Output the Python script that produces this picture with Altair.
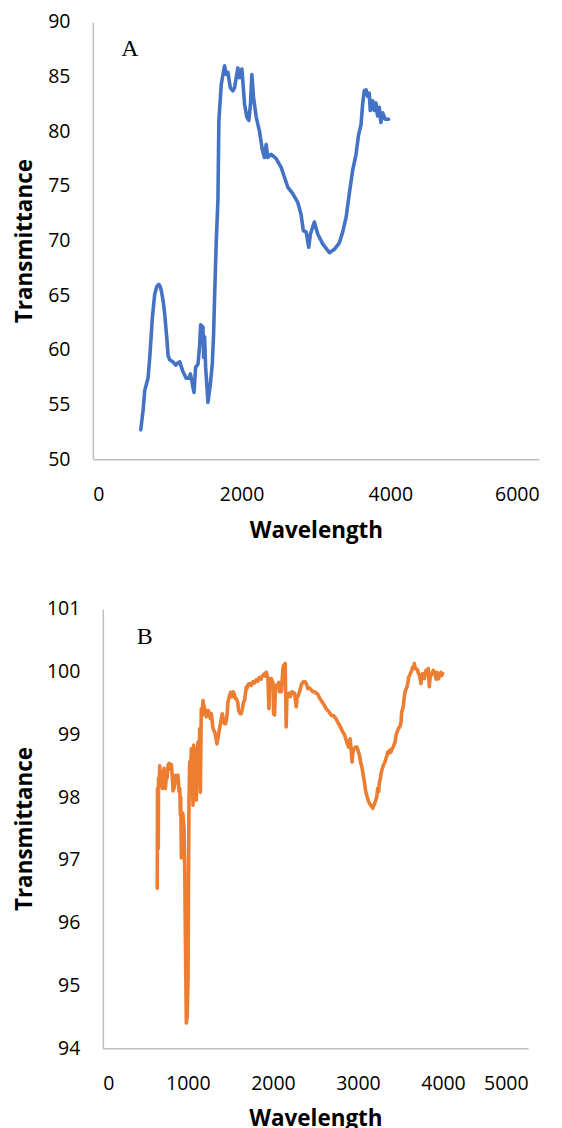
import altair as alt
import pandas as pd

# ---------------- Panel A (blue) ----------------
a_wavelength = [
    644, 662, 676, 698, 742, 765, 801, 832, 860, 886,
    905, 922, 945, 966, 997, 1011, 1033, 1078, 1114, 1140,
    1168, 1212, 1257, 1290, 1311, 1333, 1360, 1382, 1414, 1436,
    1450, 1459, 1481, 1490, 1503, 1517, 1548, 1579, 1606, 1624,
    1637, 1660, 1682, 1695, 1727, 1771, 1794, 1816, 1848, 1883,
    1906, 1950, 1973, 2004, 2017, 2040, 2071, 2098, 2120, 2138,
    2161, 2197, 2241, 2277, 2308, 2331, 2353, 2398, 2465, 2532,
    2577, 2621, 2688, 2755, 2800, 2831, 2868, 2903, 2926, 2979,
    3024, 3091, 3181, 3248, 3315, 3360, 3405, 3449, 3493, 3539,
    3574, 3606, 3628, 3650, 3673, 3695, 3717, 3731, 3762, 3784,
    3807, 3829, 3852, 3874, 3896, 3932, 3977,
]
a_transmittance = [
    52.7, 53.7, 54.5, 56.3, 57.4, 59.3, 63.0, 65.1, 65.8, 66.0,
    65.8, 65.4, 64.5, 63.3, 60.9, 59.5, 59.1, 58.9, 58.6, 58.8,
    58.9, 58.0, 57.4, 57.4, 57.8, 57.1, 56.1, 58.4, 58.7, 60.4,
    62.3, 62.2, 62.1, 59.3, 61.2, 58.4, 55.2, 56.8, 58.7, 61.5,
    64.8, 70.0, 73.7, 81.0, 84.3, 86.0, 85.2, 85.4, 84.0, 83.7,
    84.0, 85.8, 84.9, 85.7, 84.6, 82.5, 81.3, 81.0, 82.5, 85.2,
    83.1, 81.3, 80.0, 78.4, 77.6, 78.8, 77.6, 77.9, 77.5, 76.7,
    75.8, 74.9, 74.3, 73.5, 72.4, 70.9, 70.8, 69.4, 70.6, 71.7,
    70.6, 69.7, 68.9, 69.2, 69.8, 70.8, 72.1, 74.3, 76.4, 77.9,
    79.7, 80.6, 82.5, 83.7, 83.8, 83.2, 83.5, 81.9, 82.8, 81.9,
    82.6, 81.4, 82.2, 80.8, 81.7, 81.1, 81.1,
]
a_x_ticks = [0, 2000, 4000, 6000]
a_y_ticks = [50, 55, 60, 65, 70, 75, 80, 85, 90]

# ---------------- Panel B (orange) ----------------
b_wavelength = [
    640, 643, 652, 655, 661, 669, 680, 689, 701, 710,
    720, 728, 736, 748, 755, 768, 779, 792, 806, 818,
    826, 837, 845, 857, 870, 884, 896, 905, 912, 916,
    924, 935, 943, 955, 963, 972, 982, 992, 1002, 1008,
    1013, 1021, 1030, 1041, 1053, 1060, 1068, 1080, 1092, 1100,
    1107, 1119, 1131, 1139, 1147, 1158, 1168, 1178, 1188, 1198,
    1217, 1237, 1248, 1264, 1276, 1295, 1315, 1330, 1342, 1355,
    1366, 1380, 1393, 1405, 1421, 1432, 1444, 1459, 1471, 1491,
    1503, 1520, 1530, 1542, 1558, 1570, 1588, 1597, 1616, 1628,
    1640, 1655, 1667, 1687, 1694, 1710, 1726, 1745, 1765, 1785,
    1804, 1823, 1843, 1860, 1875, 1890, 1902, 1912, 1922, 1935,
    1941, 1953, 1960, 1969, 1981, 1990, 2000, 2008, 2019, 2031,
    2045, 2058, 2070, 2078, 2090, 2098, 2105, 2117, 2125, 2145,
    2150, 2156, 2165, 2176, 2190, 2203, 2215, 2227, 2240, 2254,
    2265, 2274, 2285, 2293, 2313, 2326, 2340, 2360, 2380, 2395,
    2411, 2430, 2450, 2470, 2489, 2508, 2528, 2548, 2568, 2587,
    2606, 2626, 2645, 2660, 2673, 2690, 2710, 2724, 2743, 2760,
    2782, 2800, 2821, 2841, 2861, 2875, 2888, 2900, 2908, 2920,
    2931, 2940, 2950, 2970, 2986, 3000, 3017, 3033, 3049, 3062,
    3076, 3090, 3103, 3120, 3135, 3150, 3166, 3174, 3185, 3195,
    3205, 3220, 3232, 3244, 3252, 3262, 3272, 3285, 3299, 3315,
    3330, 3340, 3350, 3365, 3375, 3389, 3401, 3415, 3428, 3440,
    3448, 3462, 3475, 3490, 3499, 3507, 3514, 3525, 3534, 3545,
    3554, 3565, 3577, 3590, 3596, 3610, 3624, 3635, 3643, 3652,
    3663, 3673, 3683, 3700, 3710, 3722, 3732, 3741, 3750, 3761,
    3770, 3780, 3790, 3800, 3813, 3827, 3833, 3839, 3848, 3860,
    3870, 3886, 3898, 3909, 3920, 3929, 3940, 3949, 3960, 3976,
    3985, 3995,
]
b_transmittance = [
    96.55, 98.14, 97.18, 98.30, 98.17, 98.50, 98.20, 98.38, 98.14, 98.40,
    98.46, 98.20, 98.14, 98.35, 98.30, 98.52, 98.54, 98.45, 98.52, 98.30,
    98.10, 98.14, 98.20, 98.35, 98.25, 98.35, 98.09, 98.14, 97.72, 98.00,
    97.03, 97.75, 97.72, 97.50, 96.87, 95.60, 94.40, 94.50, 95.12, 96.80,
    97.87, 98.56, 98.30, 98.77, 98.46, 97.87, 98.83, 98.56, 98.77, 97.95,
    98.46, 98.88, 98.35, 99.09, 98.08, 99.41, 99.30, 99.54, 99.45, 99.41,
    99.28, 99.38, 99.36, 99.25, 99.33, 99.10, 99.04, 98.95, 98.85, 98.95,
    99.04, 99.15, 99.25, 99.33, 99.20, 99.17, 99.17, 99.28, 99.52, 99.62,
    99.67, 99.60, 99.68, 99.66, 99.57, 99.57, 99.50, 99.38, 99.33, 99.33,
    99.40, 99.52, 99.54, 99.76, 99.73, 99.80, 99.81, 99.78, 99.84, 99.82,
    99.87, 99.85, 99.91, 99.88, 99.93, 99.95, 99.97, 99.93, 99.99, 99.92,
    99.91, 99.41, 99.80, 99.84, 99.89, 99.85, 99.83, 99.33, 99.31, 99.78,
    99.75, 99.80, 99.83, 99.68, 99.72, 99.68, 99.78, 100.05, 100.10, 100.13,
    99.60, 99.12, 99.60, 99.62, 99.66, 99.60, 99.65, 99.68, 99.66, 99.66,
    99.55, 99.44, 99.60, 99.60, 99.68, 99.75, 99.81, 99.84, 99.84, 99.80,
    99.73, 99.74, 99.71, 99.68, 99.68, 99.66, 99.64, 99.58, 99.54, 99.50,
    99.46, 99.41, 99.38, 99.36, 99.33, 99.30, 99.30, 99.28, 99.25, 99.20,
    99.15, 99.10, 99.04, 99.00, 98.91, 98.85, 98.80, 98.86, 98.93, 98.75,
    98.56, 98.70, 98.77, 98.80, 98.80, 98.75, 98.67, 98.55, 98.46, 98.35,
    98.24, 98.10, 98.03, 97.95, 97.90, 97.87, 97.85, 97.82, 97.86, 97.90,
    97.93, 98.00, 98.14, 98.09, 98.24, 98.28, 98.38, 98.45, 98.51, 98.55,
    98.62, 98.66, 98.72, 98.70, 98.75, 98.72, 98.77, 98.80, 98.85, 98.90,
    98.99, 99.04, 99.09, 99.12, 99.15, 99.20, 99.36, 99.40, 99.46, 99.60,
    99.68, 99.72, 99.76, 99.85, 99.91, 99.95, 99.99, 100.03, 100.07, 100.05,
    100.13, 100.05, 100.05, 100.03, 99.98, 99.94, 99.88, 99.81, 99.92, 99.97,
    99.90, 99.89, 99.95, 100.02, 100.00, 100.05, 99.90, 99.76, 99.90, 99.95,
    99.97, 100.02, 99.99, 99.94, 99.88, 99.99, 99.92, 99.89, 99.95, 99.99,
    99.94, 99.97,
]
b_x_ticks = [0, 1000, 2000, 3000, 4000, 5000]
b_y_ticks = [94, 95, 96, 97, 98, 99, 100, 101]

panel_labels = ["A", "B"]

FONT = "Open Sans"
BLUE = "#4472C4"
ORANGE = "#ED7D31"


def panel(wl, tr, color, xdom, xticks, ydom, yticks, w, h, shift, label, lab_pos):
    # shift: how far (px) the y-axis sits left of the group origin
    df = pd.DataFrame({"Wavelength": wl, "Transmittance": tr, "i": list(range(len(wl)))})
    line = alt.Chart(df).mark_line(
        color=color, strokeWidth=3.6, strokeCap="round", strokeJoin="round"
    ).encode(
        x=alt.X(
            "Wavelength:Q",
            scale=alt.Scale(domain=xdom, nice=False, zero=False, range=[-shift, w]),
            axis=alt.Axis(values=xticks, format="d", labelPadding=26,
                          titleX=(w - shift) / 2,
                          titleY=78, titleBaseline="alphabetic"),
        ),
        y=alt.Y(
            "Transmittance:Q",
            scale=alt.Scale(domain=ydom, nice=False, zero=False),
            axis=alt.Axis(values=yticks, format="d", labelPadding=23, offset=shift,
                          titleX=-61 - (10 - shift), titleY=h / 2, titleAngle=270,
                          titleAlign="center", titleBaseline="alphabetic"),
        ),
        order="i:Q",
    )
    txt = alt.Chart(pd.DataFrame({"label": [label]})).mark_text(
        font="Liberation Serif", fontSize=24, align="center", baseline="middle", color="#000"
    ).encode(
        x=alt.value(lab_pos[0]), y=alt.value(lab_pos[1]), text="label:N"
    )
    return alt.layer(line, txt).properties(width=w, height=h)


chart_a = panel(a_wavelength, a_transmittance, BLUE, [0, 6000], a_x_ticks,
                [50, 90], a_y_ticks, 437, 438, 10, panel_labels[0], (27, 27))
chart_b = panel(b_wavelength, b_transmittance, ORANGE, [0, 5000], b_x_ticks,
                [94, 101], b_y_ticks, 426, 440, 0, panel_labels[1], (42, 28))

chart = alt.vconcat(chart_a, chart_b, spacing=57).configure(
    padding={"left": 6, "top": 3, "right": 5, "bottom": 5}
).configure_view(
    stroke=None
).configure_axis(
    domainColor="#bfbfbf",
    domainWidth=1.5,
    ticks=False,
    tickSize=0,
    grid=False,
    labelFont=FONT,
    labelFontSize=19.5,
    labelColor="#000",
    titleFont=FONT,
    titleFontSize=22.5,
    titleFontWeight="bold",
    titleColor="#000",
)

chart.save("out.html", embed_options={"renderer": "svg", "actions": False})
